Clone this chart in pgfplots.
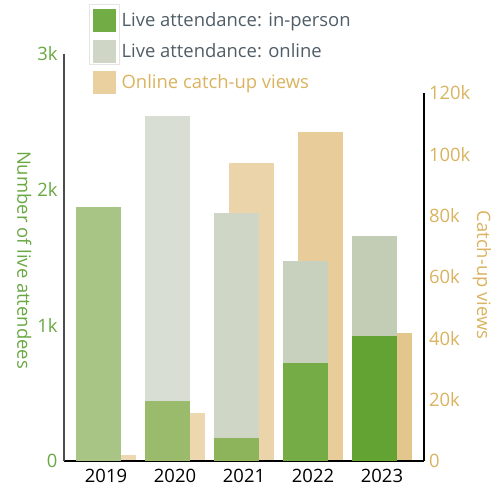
\documentclass[border=0pt]{standalone}
\usepackage{fontspec}
\setmainfont{Open Sans}
\usepackage{pgfplots}
\pgfplotsset{compat=1.18}
\usepackage{pgfplotstable}

\definecolor{ipA}{HTML}{A9C585}
\definecolor{ipB}{HTML}{9ABB6B}
\definecolor{ipC}{HTML}{8DB45B}
\definecolor{ipD}{HTML}{75AC45}
\definecolor{ipE}{HTML}{62A334}
\definecolor{onB}{HTML}{D8DED3}
\definecolor{onC}{HTML}{CFD6C6}
\definecolor{onD}{HTML}{C8D1BD}
\definecolor{onE}{HTML}{C3CCB5}
\definecolor{cuA}{HTML}{EDD8B1}
\definecolor{cuB}{HTML}{EDD7AF}
\definecolor{cuC}{HTML}{EBD4A9}
\definecolor{cuD}{HTML}{E8CD9A}
\definecolor{cuE}{HTML}{E3C68C}
\definecolor{legIP}{HTML}{72AC45}
\definecolor{legON}{HTML}{CFD6C6}
\definecolor{legCU}{HTML}{E9D09E}
\definecolor{greentext}{HTML}{69A843}
\definecolor{goldtext}{HTML}{D9B35F}
\definecolor{legtext}{HTML}{4F5D67}

\pgfplotstableread{
x inperson online catchup
0 1870 0 2000
1 445 2097 15600
2 172 1656 97200
3 724 750 107300
4 923 735 41700
}\data

\newcommand{\fs}{\fontsize{18.5}{22}\selectfont}

\begin{document}
\begin{tikzpicture}[font=\fs]
\useasboundingbox (-64bp,-26bp) rectangle (428bp,461bp);
% catch-up axis (right), drawn first so its bars sit behind
\begin{axis}[
  at={(0,0)}, anchor=south west,
  scale only axis, width=360bp, height=368bp,
  xmin=-0.609, xmax=4.609, ymin=0, ymax=120000,
  axis x line=none, axis y line*=right,
  y axis line style={black, line width=1.2pt},
  scaled y ticks=false,
  ytick={0,20000,40000,60000,80000,100000,120000},
  yticklabels={0,20k,40k,60k,80k,100k,120k},
  major tick length=0pt,
  /pgf/number format/assume math mode=true,
  y tick label style={text=goldtext, font=\fs, xshift=1.5bp},
  ylabel={Catch-up views},
  ylabel style={text=goldtext, font=\fs, at={(axis description cs:1.161,0.505)}, anchor=center, rotate=180},
  ybar, bar width=45bp,
]
\addplot[fill=cuA, draw=none, bar shift=7.5bp, restrict x to domain=0:0] table[x=x, y=catchup] {\data};
\addplot[fill=cuB, draw=none, bar shift=7.5bp, restrict x to domain=1:1] table[x=x, y=catchup] {\data};
\addplot[fill=cuC, draw=none, bar shift=7.5bp, restrict x to domain=2:2] table[x=x, y=catchup] {\data};
\addplot[fill=cuD, draw=none, bar shift=7.5bp, restrict x to domain=3:3] table[x=x, y=catchup] {\data};
\addplot[fill=cuE, draw=none, bar shift=7.5bp, restrict x to domain=4:4] table[x=x, y=catchup] {\data};
\end{axis}
% live attendance axis (left)
\begin{axis}[
  at={(0,0)}, anchor=south west,
  scale only axis, width=360bp, height=407bp,
  xmin=-0.609, xmax=4.609, ymin=0, ymax=3000,
  axis x line*=bottom, axis y line*=left,
  x axis line style={black, line width=1.2pt},
  y axis line style={black!70, line width=1.2pt},
  xtick={0,1,2,3,4}, xticklabels={2019,2020,2021,2022,2023},
  ytick={0,1000,2000,3000}, yticklabels={0,1k,2k,3k},
  major tick length=0pt,
  /pgf/number format/assume math mode=true,
  x tick label style={text=black, font=\fs, inner ysep=0.5bp, yshift=-7.5bp},
  y tick label style={text=greentext, font=\fs, xshift=-3bp},
  ylabel={Number of live attendees},
  ylabel style={text=greentext, font=\fs, at={(axis description cs:-0.11,0.494)}, anchor=center, rotate=180},
  ybar, bar width=45bp,
  legend style={at={(axis description cs:0,1)}, anchor=north west, xshift=29bp, yshift=45bp,
    draw=none, fill=none, inner sep=0pt, row sep=8.5bp,
    font=\fs, legend cell align=left},
]
\addlegendimage{legend image code/.code={\fill[legIP] (0bp,-11bp) rectangle (22bp,11bp);}}
\addlegendentry{\hspace{4bp}\textcolor{legtext}{Live attendance: in-person}}
\addlegendimage{legend image code/.code={\fill[legON] (0bp,-11bp) rectangle (22bp,11bp);}}
\addlegendentry{\hspace{4bp}\textcolor{legtext}{Live attendance: online}}
\addlegendimage{legend image code/.code={\fill[legCU] (0bp,-11bp) rectangle (22bp,11bp);}}
\addlegendentry{\hspace{4bp}\textcolor{goldtext}{Online catch-up views}}
% online bars (drawn as full live total, behind in-person part)
\addplot[fill=onB, draw=none, bar shift=-7.5bp, restrict x to domain=1:1, forget plot] table[x=x, y expr=\thisrow{inperson}+\thisrow{online}] {\data};
\addplot[fill=onC, draw=none, bar shift=-7.5bp, restrict x to domain=2:2, forget plot] table[x=x, y expr=\thisrow{inperson}+\thisrow{online}] {\data};
\addplot[fill=onD, draw=none, bar shift=-7.5bp, restrict x to domain=3:3, forget plot] table[x=x, y expr=\thisrow{inperson}+\thisrow{online}] {\data};
\addplot[fill=onE, draw=none, bar shift=-7.5bp, restrict x to domain=4:4, forget plot] table[x=x, y expr=\thisrow{inperson}+\thisrow{online}] {\data};
% in-person bars
\addplot[fill=ipA, draw=none, bar shift=-7.5bp, restrict x to domain=0:0, forget plot] table[x=x, y=inperson] {\data};
\addplot[fill=ipB, draw=none, bar shift=-7.5bp, restrict x to domain=1:1, forget plot] table[x=x, y=inperson] {\data};
\addplot[fill=ipC, draw=none, bar shift=-7.5bp, restrict x to domain=2:2, forget plot] table[x=x, y=inperson] {\data};
\addplot[fill=ipD, draw=none, bar shift=-7.5bp, restrict x to domain=3:3, forget plot] table[x=x, y=inperson] {\data};
\addplot[fill=ipE, draw=none, bar shift=-7.5bp, restrict x to domain=4:4, forget plot] table[x=x, y=inperson] {\data};
\end{axis}
\draw[black!10, line width=1pt] (25bp,396bp) rectangle (55bp,456bp);
\end{tikzpicture}
\end{document}
